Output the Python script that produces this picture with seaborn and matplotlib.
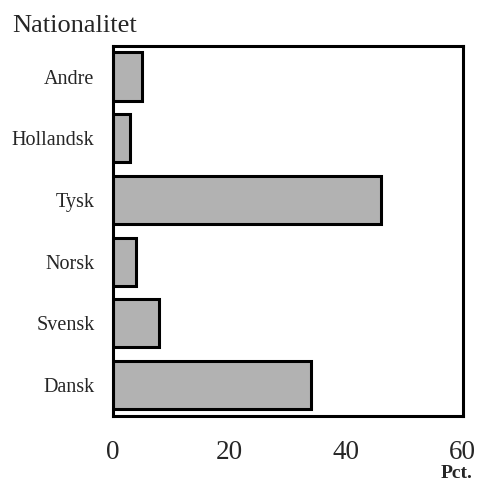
import matplotlib
matplotlib.use("Agg")
import matplotlib.pyplot as plt
import seaborn as sns

sns.set_style("white")
plt.rcParams["font.family"] = ["Liberation Serif", "DejaVu Serif"]

# data
nationalities = ["Andre", "Hollandsk", "Tysk", "Norsk", "Svensk", "Dansk"]
pct = [5, 3, 46, 4, 8, 34]
x_ticks = [0, 20, 40, 60]

fig = plt.figure(figsize=(4.8, 4.82), dpi=100)
ax = fig.add_axes([112.5 / 480, 1 - 416 / 482, 350 / 480, (416 - 45.7) / 482])

sns.barplot(x=pct, y=nationalities, orient="h", color="#b2b2b2", saturation=1,
            edgecolor="black", linewidth=2.2, width=0.78, ax=ax)

ax.set_xlim(0, 60)
ax.set_ylim(5.5, -0.5)
ax.set_xticks(x_ticks)
ax.set_xticklabels([str(t) for t in x_ticks], fontsize=19.5)
ax.tick_params(axis="x", direction="out", length=5, width=2, pad=12)
ax.tick_params(axis="y", length=0, pad=13, labelsize=14.5)
ax.set_yticks([i + 0.5 for i in range(len(nationalities) - 1)], minor=True)
ax.tick_params(axis="y", which="minor", direction="in", length=5, width=1.5)
ax.set_xlabel(""); ax.set_ylabel("")
for s in ax.spines.values():
    s.set_visible(True)
    s.set_linewidth(2.2)
    s.set_color("black")

fig.text(12 / 480, 1 - 32 / 482, "Nationalitet", fontsize=19, va="baseline", ha="left")
fig.text(473 / 480, 1 - 478 / 482, "Pct.", fontsize=14, fontweight="bold",
         va="baseline", ha="right")

fig.savefig("out.png", dpi=100)
